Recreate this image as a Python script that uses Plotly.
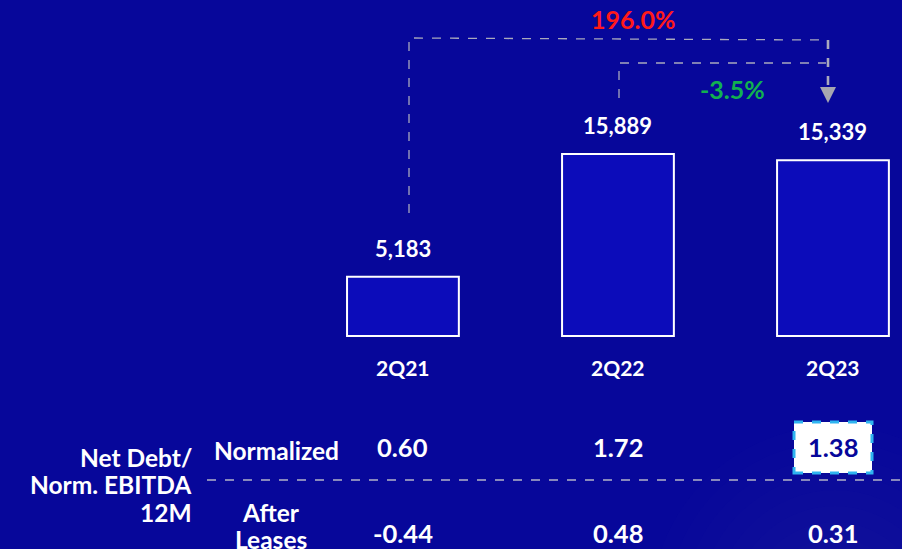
import plotly.graph_objects as go

# --- data -------------------------------------------------------------
periods = ["2Q21", "2Q22", "2Q23"]
net_debt = [5183, 15889, 15339]
net_debt_labels = ["5,183", "15,889", "15,339"]
growth_labels = ["196.0%", "-3.5%"]

row_header_lines = ["Net Debt/", "Norm. EBITDA", "12M"]
row_name_normalized = ["Normalized"]
row_name_after_leases = ["After", "Leases"]
ratio_normalized = ["0.60", "1.72", "1.38"]
ratio_after_leases = ["-0.44", "0.48", "0.31"]

# --- layout constants -------------------------------------------------
W, H = 902, 549
BG = "#07079a"
BAR_FILL = "#0c0cba"
FONT = "Lato"
GREY = "#a9a9bd"

x_pos = list(range(len(periods)))
# axis ranges chosen so the bars sit on a shared baseline at mid-height
x_range = [-1.874, 2.321]
y_range = [-18603, 29345]


def px(x):
    return x / W


def py(y):
    return 1 - y / H


def txt(size, color="white"):
    return dict(family=FONT, size=size, color=color, weight="bold")


def paper_text(x, y, text, size, color="white", xanchor="center"):
    return dict(x=px(x), y=py(y), xref="paper", yref="paper", text=text,
                showarrow=False, xanchor=xanchor, yanchor="middle",
                font=txt(size, color))


fig = go.Figure()

fig.add_trace(go.Bar(
    x=x_pos, y=net_debt, width=0.52,
    marker=dict(color=BAR_FILL, line=dict(color="white", width=2)),
    hoverinfo="skip",
))

ann = []
# value labels above bars
for x, v, lab in zip(x_pos, net_debt, net_debt_labels):
    ann.append(dict(x=x, y=v, xref="x", yref="y", text=lab, showarrow=False,
                    xanchor="center", yanchor="bottom", yshift=13, font=txt(22)))
# category labels under bars
for x, p in zip(x_pos, periods):
    ann.append(dict(x=x, y=py(367), xref="x", yref="paper", text=p, showarrow=False,
                    xanchor="center", yanchor="middle", font=txt(21)))

# growth labels
ann.append(paper_text(633, 19, growth_labels[0], 25, "#ff1a1a"))
ann.append(paper_text(732, 89, growth_labels[1], 25, "#12b050"))

# ratio table: row header, row names, values
for line, y in zip(row_header_lines, [457, 485, 512]):
    ann.append(paper_text(194, y, line, 24.5, xanchor="right"))
ann.append(paper_text(276, 450, row_name_normalized[0], 24.5))
for line, y in zip(row_name_after_leases, [512, 539]):
    ann.append(paper_text(271, y, line, 24.5))
for i, (x, a, b) in enumerate(zip(x_pos, ratio_normalized, ratio_after_leases)):
    top_color = BG if i == len(x_pos) - 1 else "white"
    ann.append(dict(x=x, y=py(447), xref="x", yref="paper", text=a, showarrow=False,
                    xanchor="center", yanchor="middle", font=txt(25.5, top_color)))
    ann.append(dict(x=x, y=py(533), xref="x", yref="paper", text=b, showarrow=False,
                    xanchor="center", yanchor="middle", font=txt(25.5)))

shapes = []
# soft glow at the lower right
for r in range(40, 200, 16):
    cx, cy = 835, 610
    shapes.append(dict(type="circle", xref="paper", yref="paper", layer="below",
                       x0=px(cx - r), x1=px(cx + r), y0=py(cy + r), y1=py(cy - r),
                       fillcolor="#6a50d0", opacity=0.02, line=dict(width=0)))

# connector 2Q21 -> 2Q23
shapes.append(dict(type="path", xref="paper", yref="paper",
                   path=f"M {px(409)},{py(213)} L {px(409)},{py(38)} L {px(828)},{py(40)}",
                   line=dict(color=GREY, width=1.3, dash="dash")))
shapes.append(dict(type="line", xref="paper", yref="paper",
                   x0=px(828), x1=px(828), y0=py(40), y1=py(88),
                   line=dict(color=GREY, width=2.6, dash="dash")))
shapes.append(dict(type="path", xref="paper", yref="paper",
                   path=f"M {px(820)},{py(87)} L {px(836)},{py(87)} L {px(828)},{py(103)} Z",
                   fillcolor="#a6a6b0", line=dict(width=0)))
# connector 2Q22 -> 2Q23
shapes.append(dict(type="path", xref="paper", yref="paper",
                   path=f"M {px(619)},{py(98)} L {px(619)},{py(63)} L {px(826)},{py(63)}",
                   line=dict(color=GREY, width=1.3, dash="dash")))

# table divider
shapes.append(dict(type="line", xref="paper", yref="paper",
                   x0=px(207), x1=1, y0=py(480), y1=py(480),
                   line=dict(color="#b4b4c8", width=1.5, dash="dash")))
# highlight box for the latest normalized ratio
shapes.append(dict(type="rect", xref="paper", yref="paper",
                   x0=px(794), x1=px(872), y0=py(473), y1=py(422),
                   fillcolor="white", line=dict(color="#2fb4f0", width=3, dash="dash")))

fig.update_layout(
    width=W, height=H,
    margin=dict(l=0, r=0, t=0, b=0),
    paper_bgcolor=BG, plot_bgcolor=BG,
    showlegend=False,
    xaxis=dict(range=x_range, visible=False, fixedrange=True),
    yaxis=dict(range=y_range, visible=False, fixedrange=True),
    annotations=ann, shapes=shapes,
)

fig.write_html("out.html")
